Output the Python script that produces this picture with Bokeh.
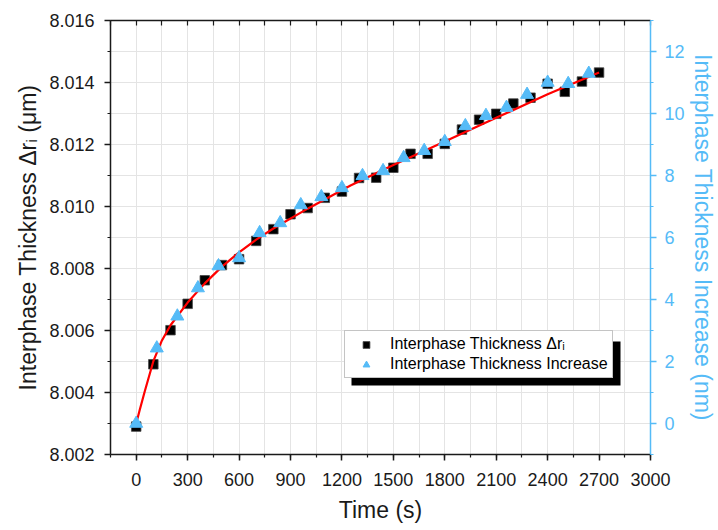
from bokeh.plotting import figure
from bokeh.models import (Range1d, LinearAxis, SingleIntervalTicker, FixedTicker,
                          PrintfTickFormatter, Legend, LegendItem, BoxAnnotation)
from bokeh.embed import file_html
from bokeh.resources import INLINE

# ---- data ----
sq_time = [0, 100, 200, 300, 400, 500, 600, 700, 800, 900, 1000, 1100, 1200, 1300,
           1400, 1500, 1600, 1700, 1800, 1900, 2000, 2100, 2200, 2300, 2400, 2500,
           2600, 2700]
sq_um = [8.00290, 8.00491, 8.00601, 8.00686, 8.00762, 8.00811, 8.00830, 8.00889,
         8.00927, 8.00975, 8.00995, 8.01028, 8.01048, 8.01092, 8.01093, 8.01125,
         8.01170, 8.01170, 8.01202, 8.01248, 8.01280, 8.01299, 8.01332, 8.01351,
         8.01396, 8.01370, 8.01403, 8.01432]

tri_time = [0, 120, 240, 360, 480, 600, 720, 840, 960, 1080, 1200, 1320, 1440, 1560,
            1680, 1800, 1920, 2040, 2160, 2280, 2400, 2520, 2640]
tri_nm = [0.00, 2.43, 3.46, 4.37, 5.08, 5.34, 6.15, 6.47, 7.05, 7.31, 7.60, 7.99,
          8.15, 8.57, 8.80, 9.09, 9.60, 9.93, 10.19, 10.61, 11.00, 10.96, 11.29]

fit_time = [0, 20, 50, 100, 150, 200, 300, 400, 500, 600, 700, 800, 1000, 1250,
            1500, 1800, 2100, 2400, 2700]
fit_um = [8.00300, 8.00343, 8.00404, 8.00501, 8.00568, 8.00617, 8.00690, 8.00752,
          8.00806, 8.00852, 8.00893, 8.00929, 8.00993, 8.01068, 8.01134, 8.01210,
          8.01286, 8.01362, 8.01432]

x_minor_positions = [-150, 0, 150, 300, 450, 600, 750, 900, 1050, 1200, 1350, 1500,
                     1650, 1800, 1950, 2100, 2250, 2400, 2550, 2700, 2850, 3000]

x_title = "Time (s)"
y_title = "Interphase Thickness \u0394r\u1d62 (\u03bcm)"
y2_title = "Interphase Thickness Increase (nm)"
leg_sq = "Interphase Thickness \u0394r\u1d62"
leg_tri = "Interphase Thickness Increase"

FONT = "Liberation Sans"
BLUE = "#55BBF7"
DARK = "#1a1a1a"

W, H = 718, 530
BL, BR, BT, BB = 110, 66, 20, 76

p = figure(width=W, height=H, x_range=Range1d(-150, 3000),
           y_range=Range1d(8.002, 8.016), output_backend="svg",
           toolbar_location=None, min_border_left=BL, min_border_right=BR,
           min_border_top=BT, min_border_bottom=BB)
p.extra_y_ranges = {"nm": Range1d(-1, 13)}
p.outline_line_color = None
p.background_fill_color = "white"

xticker = SingleIntervalTicker(interval=300, num_minor_ticks=2)
yticker = SingleIntervalTicker(interval=0.002, num_minor_ticks=2)
y2ticker = SingleIntervalTicker(interval=2, num_minor_ticks=2)

def style_axis(ax, color=DARK):
    ax.axis_line_color = color
    ax.axis_line_width = 1.5
    ax.major_tick_line_color = color
    ax.minor_tick_line_color = color
    ax.major_tick_line_width = 1.5
    ax.minor_tick_line_width = 1.2
    ax.major_label_text_font = FONT
    ax.major_label_text_font_size = "18px"
    ax.major_label_text_color = color
    ax.axis_label_text_font = FONT
    ax.axis_label_text_font_size = "23px"
    ax.axis_label_text_font_style = "normal"
    ax.axis_label_text_color = color

xa = p.xaxis[0]
xa.ticker = xticker
xa.axis_label = x_title
style_axis(xa)
xa.major_tick_out = 6
xa.major_tick_in = 0
xa.minor_tick_out = 3
xa.minor_tick_in = 0
xa.major_label_standoff = 12
xa.axis_label_standoff = 8

ya = p.yaxis[0]
ya.ticker = yticker
ya.formatter = PrintfTickFormatter(format="%.3f")
ya.axis_label = y_title
style_axis(ya)
ya.major_tick_out = 6
ya.major_tick_in = 0
ya.minor_tick_out = 3
ya.minor_tick_in = 0
ya.major_label_standoff = 10
ya.axis_label_standoff = 5

# top frame edge: inward ticks only, no labels
top = LinearAxis(ticker=FixedTicker(ticks=[], minor_ticks=x_minor_positions))
style_axis(top)
top.major_tick_in = 0
top.major_tick_out = 0
top.minor_tick_in = 5
top.minor_tick_out = 0
top.major_label_standoff = 0
p.add_layout(top, "above")

ra = LinearAxis(y_range_name="nm", ticker=y2ticker, axis_label=y2_title)
style_axis(ra, BLUE)
ra.major_tick_out = 6
ra.major_tick_in = 0
ra.minor_tick_out = 3
ra.minor_tick_in = 0
ra.major_label_standoff = 8
ra.axis_label_standoff = 2
p.add_layout(ra, "right")

for g, t in ((p.xgrid[0], xticker), (p.ygrid[0], yticker)):
    g.ticker = t
    g.grid_line_color = "#e4e4e4"
    g.grid_line_width = 1
    g.minor_grid_line_color = "#e4e4e4"
    g.minor_grid_line_width = 1

r_sq = p.scatter(sq_time, sq_um, marker="square", size=9.5, fill_color="black",
                 line_color="#444444", line_width=0.8)
r_fit = p.line(fit_time, fit_um, line_color="#ff0000", line_width=2.2)
r_tri = p.scatter(tri_time, tri_nm, marker="triangle", size=13, fill_color=BLUE,
                  line_color=BLUE, y_range_name="nm")

# legend geometry (canvas pixels)
LEG_X, LEG_Y = 234, 76          # offset from frame's bottom-left
LEG_W, LEG_H = 269, 44
SH = 7                          # shadow offset
leg_left = BL + LEG_X
leg_bottom = H - BB - LEG_Y
shadow = BoxAnnotation(left=leg_left + SH, right=leg_left + LEG_W + SH,
                       top=leg_bottom - LEG_H + SH, bottom=leg_bottom + SH,
                       left_units="canvas", right_units="canvas",
                       top_units="canvas", bottom_units="canvas",
                       fill_color="black", fill_alpha=1, line_color=None,
                       level="annotation")
p.add_layout(shadow)

legend = Legend(items=[LegendItem(label=leg_sq, renderers=[r_sq]),
                       LegendItem(label=leg_tri, renderers=[r_tri])],
                location=(LEG_X, LEG_Y))
legend.label_text_font = FONT
legend.label_text_font_size = "16px"
legend.padding = 4
legend.margin = 0
legend.spacing = 2
legend.glyph_width = 34
legend.glyph_height = 17
legend.label_height = 17
legend.label_standoff = 7
legend.border_line_width = 1
legend.background_fill_color = "white"
legend.background_fill_alpha = 1
legend.border_line_color = "#8a8a8a"
legend.label_text_color = "black"
p.add_layout(legend)

open("out.html", "w").write(file_html(p, INLINE))
